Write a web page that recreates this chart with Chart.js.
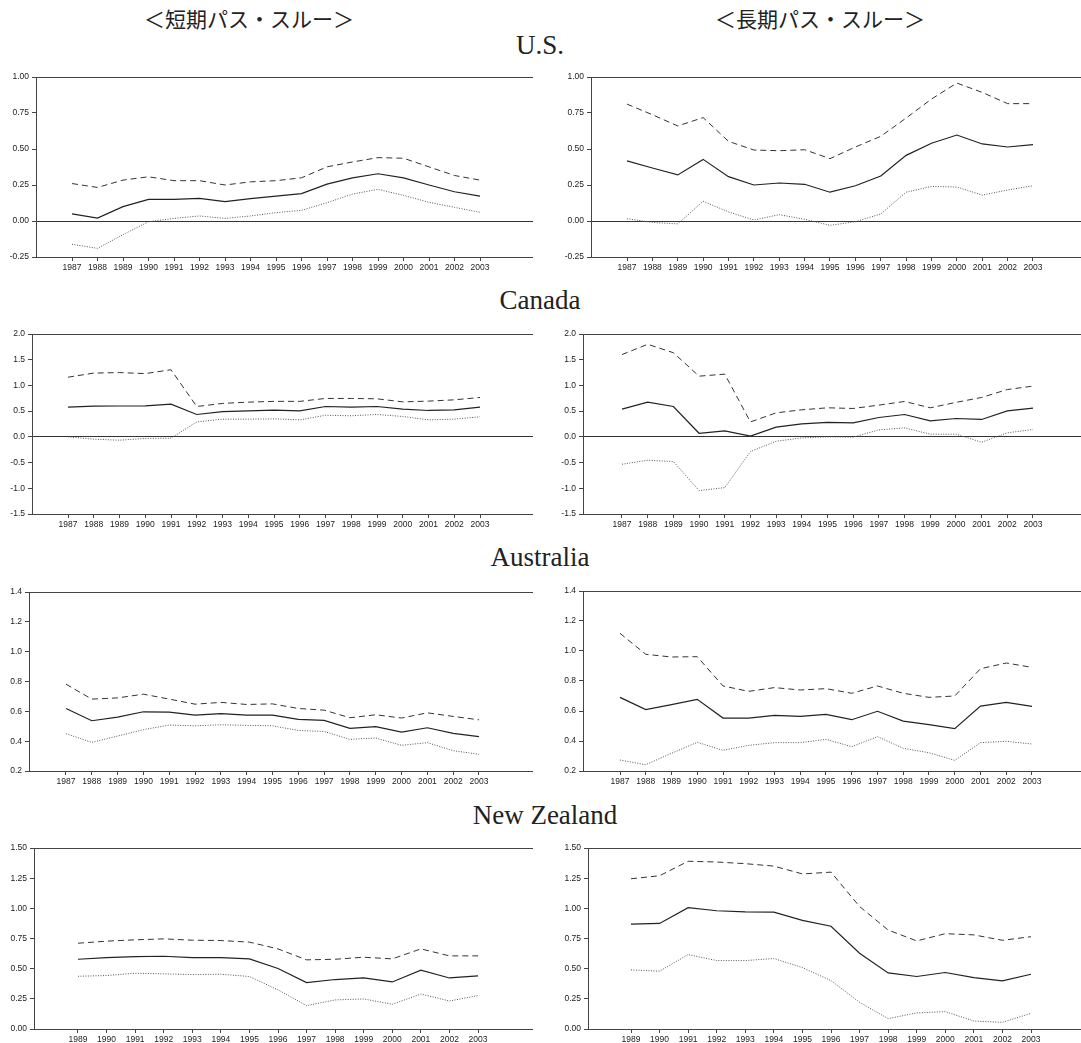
<!DOCTYPE html>
<html>
<head>
<meta charset="utf-8">
<script src="https://cdn.jsdelivr.net/npm/chart.js@4.4.0/dist/chart.umd.min.js"></script>
<style>
  html, body { margin: 0; padding: 0; background: #fff; overflow: hidden; }
  body { position: relative; width: 1081px; height: 1043px; }
  .ttl { position: absolute; color: #222; white-space: nowrap; transform: translate(-50%, -50%); }
  .hdr { font-family: 'Noto Sans CJK JP', sans-serif; font-size: 21px; }
  .cty { font-family: 'Liberation Serif', 'DejaVu Serif', serif; font-size: 27px; }
  canvas { position: absolute; }
</style>
</head>
<body>
<div class="ttl hdr" style="left:249px; top:18px">＜短期パス・スルー＞</div>
<div class="ttl hdr" style="left:820px; top:18px">＜長期パス・スルー＞</div>
<div class="ttl cty" style="left:540px; top:45px">U.S.</div>
<div class="ttl cty" style="left:540px; top:300px">Canada</div>
<div class="ttl cty" style="left:540px; top:557px">Australia</div>
<div class="ttl cty" style="left:545px; top:815px">New Zealand</div>

<script>
// years on the x axis
const years87 = [1987, 1988, 1989, 1990, 1991, 1992, 1993, 1994, 1995, 1996, 1997, 1998, 1999, 2000, 2001, 2002, 2003];
const years89 = [1989, 1990, 1991, 1992, 1993, 1994, 1995, 1996, 1997, 1998, 1999, 2000, 2001, 2002, 2003];

// y tick labels per country
const usTicks = [-0.25, 0, 0.25, 0.5, 0.75, 1.0];
const caTicks = [-1.5, -1.0, -0.5, 0, 0.5, 1.0, 1.5, 2.0];
const auTicks = [0.2, 0.4, 0.6, 0.8, 1.0, 1.2, 1.4];
const nzTicks = [0, 0.25, 0.5, 0.75, 1.0, 1.25, 1.5];

// U.S.
const usShortMid = [0.05, 0.02, 0.10, 0.15, 0.15, 0.157, 0.134, 0.155, 0.173, 0.19, 0.256, 0.30, 0.328, 0.30, 0.25, 0.203, 0.173];
const usShortUp = [0.26, 0.233, 0.284, 0.307, 0.28, 0.28, 0.25, 0.272, 0.28, 0.30, 0.376, 0.41, 0.44, 0.436, 0.376, 0.316, 0.284];
const usShortLo = [-0.162, -0.19, -0.095, -0.005, 0.018, 0.035, 0.018, 0.035, 0.058, 0.074, 0.127, 0.187, 0.22, 0.178, 0.13, 0.095, 0.06];
const usLongMid = [0.417, 0.368, 0.32, 0.428, 0.308, 0.25, 0.264, 0.255, 0.2, 0.245, 0.312, 0.456, 0.54, 0.597, 0.535, 0.514, 0.53];
const usLongUp = [0.812, 0.738, 0.66, 0.718, 0.553, 0.493, 0.488, 0.495, 0.433, 0.514, 0.588, 0.715, 0.847, 0.958, 0.893, 0.815, 0.815];
const usLongLo = [0.016, -0.01, -0.02, 0.137, 0.063, 0.007, 0.044, 0.012, -0.03, -0.005, 0.049, 0.2, 0.24, 0.236, 0.18, 0.215, 0.245];

// Canada
const caShortMid = [0.578, 0.597, 0.6, 0.604, 0.636, 0.435, 0.49, 0.506, 0.52, 0.506, 0.59, 0.578, 0.59, 0.54, 0.513, 0.526, 0.578];
const caShortUp = [1.16, 1.24, 1.25, 1.23, 1.305, 0.59, 0.65, 0.675, 0.69, 0.69, 0.747, 0.747, 0.74, 0.68, 0.695, 0.72, 0.766];
const caShortLo = [0.0, -0.045, -0.065, -0.03, -0.026, 0.29, 0.344, 0.344, 0.35, 0.33, 0.42, 0.41, 0.435, 0.396, 0.33, 0.344, 0.39];
const caLongMid = [0.54, 0.675, 0.59, 0.07, 0.117, 0.013, 0.19, 0.253, 0.28, 0.273, 0.377, 0.435, 0.31, 0.357, 0.338, 0.506, 0.558];
const caLongUp = [1.6, 1.8, 1.636, 1.18, 1.22, 0.29, 0.467, 0.526, 0.565, 0.552, 0.617, 0.688, 0.565, 0.67, 0.766, 0.92, 0.987];
const caLongLo = [-0.532, -0.455, -0.48, -1.045, -0.987, -0.286, -0.085, -0.02, 0.0, -0.006, 0.136, 0.175, 0.052, 0.052, -0.104, 0.078, 0.143];

// Australia
const auShortMid = [0.619, 0.537, 0.561, 0.597, 0.595, 0.575, 0.584, 0.575, 0.575, 0.546, 0.539, 0.486, 0.497, 0.461, 0.49, 0.452, 0.43];
const auShortUp = [0.782, 0.682, 0.69, 0.715, 0.682, 0.648, 0.66, 0.646, 0.65, 0.619, 0.608, 0.557, 0.577, 0.555, 0.59, 0.566, 0.543];
const auShortLo = [0.45, 0.392, 0.434, 0.477, 0.508, 0.503, 0.51, 0.506, 0.503, 0.472, 0.465, 0.412, 0.421, 0.372, 0.39, 0.336, 0.312];
const auLongMid = [0.691, 0.609, 0.642, 0.678, 0.553, 0.553, 0.571, 0.564, 0.578, 0.542, 0.598, 0.533, 0.509, 0.482, 0.633, 0.658, 0.631];
const auLongUp = [1.118, 0.978, 0.96, 0.962, 0.767, 0.731, 0.756, 0.74, 0.749, 0.718, 0.767, 0.718, 0.691, 0.7, 0.882, 0.92, 0.891];
const auLongLo = [0.273, 0.242, 0.318, 0.391, 0.338, 0.371, 0.389, 0.389, 0.411, 0.362, 0.429, 0.351, 0.322, 0.271, 0.389, 0.398, 0.38];

// New Zealand
const nzShortMid = [0.578, 0.592, 0.6, 0.603, 0.592, 0.592, 0.581, 0.501, 0.385, 0.41, 0.423, 0.39, 0.487, 0.423, 0.44];
const nzShortUp = [0.711, 0.728, 0.739, 0.747, 0.736, 0.733, 0.72, 0.664, 0.573, 0.578, 0.595, 0.581, 0.664, 0.606, 0.606];
const nzShortLo = [0.437, 0.443, 0.462, 0.457, 0.451, 0.454, 0.435, 0.324, 0.194, 0.241, 0.249, 0.205, 0.29, 0.232, 0.277];
const nzLongMid = [0.869, 0.875, 1.005, 0.98, 0.971, 0.969, 0.9, 0.852, 0.628, 0.465, 0.435, 0.468, 0.426, 0.399, 0.454];
const nzLongUp = [1.245, 1.27, 1.39, 1.384, 1.37, 1.35, 1.285, 1.3, 1.015, 0.82, 0.73, 0.79, 0.78, 0.735, 0.765];
const nzLongLo = [0.49, 0.479, 0.617, 0.567, 0.567, 0.584, 0.509, 0.401, 0.221, 0.086, 0.133, 0.144, 0.066, 0.055, 0.13];

const AXIS_W = 40; // y axis width
const PAD_T = 10;  // room for top tick label
const XAX_H = 22;  // x axis height
const INK = '#333';

// box = [left, top, right, bottom] of plot area, first/last = pixel x of first/last year
const panels = [
  { years: years87, mid: usShortMid, up: usShortUp, lo: usShortLo, ticks: usTicks, dec: 2, zero: true, box: [36, 77, 533, 257], first: 72, last: 480 },
  { years: years87, mid: usLongMid, up: usLongUp, lo: usLongLo, ticks: usTicks, dec: 2, zero: true, box: [591, 77, 1100, 257], first: 627, last: 1033 },
  { years: years87, mid: caShortMid, up: caShortUp, lo: caShortLo, ticks: caTicks, dec: 1, zero: true, box: [32, 334, 533, 514], first: 68, last: 480 },
  { years: years87, mid: caLongMid, up: caLongUp, lo: caLongLo, ticks: caTicks, dec: 1, zero: true, box: [583, 334, 1100, 514], first: 622, last: 1033 },
  { years: years87, mid: auShortMid, up: auShortUp, lo: auShortLo, ticks: auTicks, dec: 1, zero: false, box: [29, 592, 533, 771], first: 66, last: 479 },
  { years: years87, mid: auLongMid, up: auLongUp, lo: auLongLo, ticks: auTicks, dec: 1, zero: false, box: [583, 591, 1100, 771], first: 620, last: 1032 },
  { years: years89, mid: nzShortMid, up: nzShortUp, lo: nzShortLo, ticks: nzTicks, dec: 2, zero: false, box: [34, 848, 533, 1029], first: 78, last: 478 },
  { years: years89, mid: nzLongMid, up: nzLongUp, lo: nzLongLo, ticks: nzTicks, dec: 2, zero: false, box: [588, 848, 1100, 1029], first: 631, last: 1031 },
];

const frame = {
  id: 'frame',
  afterDraw(chart) {
    const { ctx, chartArea: a } = chart;
    ctx.save();
    ctx.strokeStyle = '#444';
    ctx.lineWidth = 1;
    ctx.strokeRect(Math.round(a.left) + 0.5, Math.round(a.top) + 0.5, Math.round(a.right - a.left), Math.round(a.bottom - a.top));
    ctx.restore();
  },
};

const pts = (years, vals) => vals.map((v, i) => ({ x: years[i], y: v }));

panels.forEach((p) => {
  const [L, T, R, B] = p.box;
  const canvas = document.createElement('canvas');
  canvas.width = R - L + AXIS_W;
  canvas.height = B - T + PAD_T + XAX_H;
  canvas.style.left = `${L - AXIS_W}px`;
  canvas.style.top = `${T - PAD_T}px`;
  document.body.appendChild(canvas);

  const y0 = p.years[0];
  const y1 = p.years[p.years.length - 1];
  const pxPerYear = (p.last - p.first) / (y1 - y0);
  const xMin = y0 - (p.first - L) / pxPerYear;
  const xMax = y1 + (R - p.last) / pxPerYear;
  const tickFont = { family: 'Liberation Sans', size: 8.5 };

  // eslint-disable-next-line no-new
  new Chart(canvas, {
    type: 'line',
    data: {
      datasets: [
        { data: pts(p.years, p.up), borderColor: INK, borderWidth: 1, borderDash: [6, 4] },
        { data: pts(p.years, p.mid), borderColor: '#222', borderWidth: 1.2 },
        { data: pts(p.years, p.lo), borderColor: '#555', borderWidth: 1, borderDash: [1, 1.5] },
      ],
    },
    options: {
      responsive: false,
      animation: false,
      layout: { padding: { top: PAD_T, left: 0, right: 0, bottom: 0 } },
      plugins: { legend: { display: false }, tooltip: { enabled: false } },
      elements: { point: { radius: 0 }, line: { tension: 0 } },
      scales: {
        x: {
          type: 'linear',
          min: xMin,
          max: xMax,
          afterBuildTicks: (s) => { s.ticks = p.years.map((v) => ({ value: v })); },
          afterFit: (s) => { s.height = XAX_H; },
          ticks: { callback: (v) => String(v), font: tickFont, color: '#222', padding: 2, maxRotation: 0, autoSkip: false },
          grid: { drawOnChartArea: false, tickLength: 4, color: '#444' },
          border: { color: '#444', width: 1 },
        },
        y: {
          min: p.ticks[0],
          max: p.ticks[p.ticks.length - 1],
          afterBuildTicks: (s) => { s.ticks = p.ticks.map((v) => ({ value: v })); },
          afterFit: (s) => { s.width = AXIS_W; },
          ticks: { callback: (v) => Number(v).toFixed(p.dec), font: tickFont, color: '#222', padding: 3 },
          grid: {
            tickLength: 4,
            tickColor: '#444',
            color: (c) => (p.zero && c.tick && c.tick.value === 0 ? INK : 'rgba(0,0,0,0)'),
          },
          border: { color: '#444', width: 1 },
        },
      },
    },
    plugins: [frame],
  });
});
</script>
</body>
</html>
